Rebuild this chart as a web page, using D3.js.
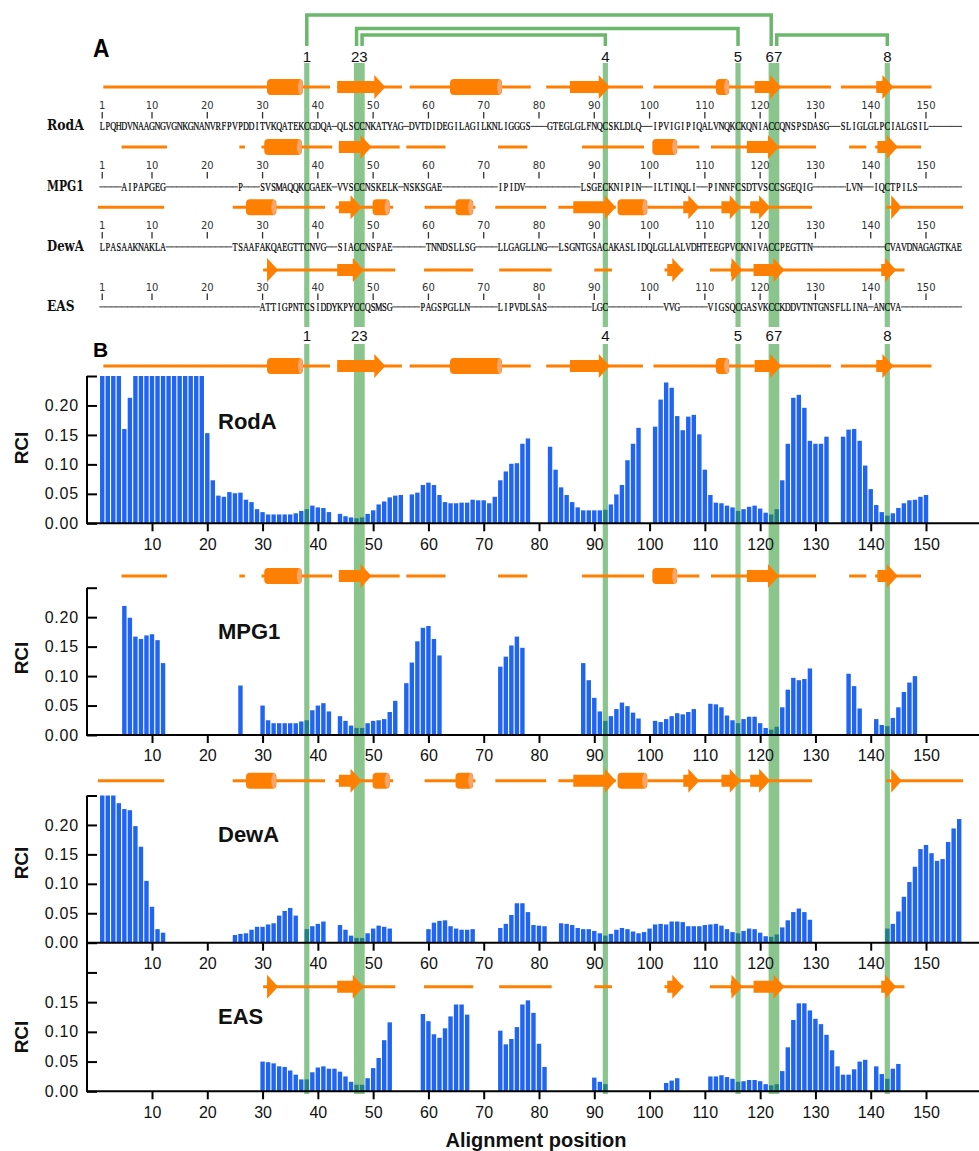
<!DOCTYPE html>
<html><head><meta charset="utf-8">
<script src="https://cdn.jsdelivr.net/npm/d3@7"></script>
<style>body{margin:0;background:#fff} svg{display:block}</style>
</head><body><svg id="c" width="979" height="1151"></svg>
<script>
// ---------------- DATA ----------------
const proteins = ["RodA", "MPG1", "DewA", "EAS"];

const seqRodA = "LPQHDVNAAGNGVGNKGNANVRFPVPDDITVKQATEKCGDQA-QLSCCNKATYAG-DVTDIDEGILAGILKNLIGGGS---GTEGLGLFNQCSKLDLQ--IPVIGIPIQALVNQKCKQNIACCQNSPSDASG--SLIGLGLPCIALGSIL------";
const seqMPG1 = "----AIPAPGEG-------------P---SVSMAQQKCGAEK-VVSCCNSKELK-NSKSGAE----------IPIDV----------LSGECKNIPIN--ILTINQLI--PINNFCSDTVSCCSGEQIG------LVN--IQCTPILS--------";
const seqDewA = "LPASAAKNAKLA------------TSAAFAKQAEGTTCNVG--SIACCNSPAE------TNNDSLLSG----LLGAGLLNG--LSGNTGSACAKASLIDQLGLLALVDHTEEGPVCKNIVACCPEGTTN-------------CVAVDNAGAGTKAE";
const seqEAS  = "-----------------------------ATTIGPNTCSIDDYKPYCCQSMSG-----PAGSPGLLN-----LIPVDLSAS--------LGC----------VVG-----VIGSQCGASVKCCKDDVTNTGNSFLLINA-ANCVA-----------";

// RCI per alignment position 1..156 (null = no value)
const rciRodA = [
 .25,.25,.25,.25,.160,.213,.25,.25,.25,.25,
 .25,.25,.25,.25,.25,.25,.25,.25,.25,.153,
 .073,.047,.045,.053,.051,.052,.040,.036,.024,.019,
 .015,.015,.015,.015,.015,.017,.021,.024,.030,.027,
 .026,.019,null,.016,.012,.010,.0085,.010,.016,.022,
 .032,.037,.044,.047,.048,null,.049,.052,.065,.069,
 .065,.048,.036,.034,.034,.035,.035,.040,.039,.039,
 .034,.045,.073,.088,.101,.102,.135,.144,null,null,
 null,.130,.091,.061,.048,.036,.027,.022,.022,.022,
 .022,.023,.032,.049,.065,.107,.135,.162,null,null,
 .164,.210,.239,.230,.182,.158,.181,.184,.151,.091,
 .048,.035,.034,.030,.027,.021,.024,.028,.030,.025,
 .018,.015,.024,.073,.135,.213,.218,.196,.140,.135,
 .135,.147,null,null,.147,.159,.160,.140,.098,.058,
 .031,.019,.013,.017,.026,.034,.039,.040,.045,.048,
 null,null,null,null,null,null];
const rciMPG1 = [
 null,null,null,null,.219,.199,.167,.163,.169,.171,
 .161,.122,null,null,null,null,null,null,null,null,
 null,null,null,null,null,.084,null,null,null,.050,
 .025,.020,.020,.020,.020,.020,.023,.025,.042,.050,
 .054,.040,null,.032,.024,.016,.012,.012,.020,.024,
 .025,.027,.039,.058,null,.088,.123,.159,.182,.185,
 .163,.135,null,null,null,null,null,null,null,null,
 null,null,.116,.133,.152,.167,.148,null,null,null,
 null,null,null,null,null,null,null,.122,.093,.063,
 .040,.024,.032,.044,.055,.049,.038,.028,null,null,
 .024,.022,.027,.032,.037,.035,.039,.044,null,null,
 .053,.052,.047,.033,.025,.020,.027,.031,.031,.020,
 .012,.009,.014,.047,.077,.097,.093,.095,.113,null,
 null,null,null,null,null,.104,.083,.045,null,null,
 .027,.017,.015,.029,.047,.073,.089,.100,null,null,
 null,null,null,null,null,null];
const rciDewA = [
 .25,.25,.25,.237,.227,.225,.198,.163,.105,.061,
 .023,.017,null,null,null,null,null,null,null,null,
 null,null,null,null,.013,.015,.016,.022,.027,.027,
 .031,.033,.046,.054,.059,.046,null,.023,.028,.032,
 .036,null,null,.030,.022,.012,.008,.008,.016,.024,
 .029,.027,.024,null,null,null,null,null,null,.023,
 .034,.037,.038,.028,.024,.022,.022,.023,null,null,
 null,null,.025,.032,.047,.067,.067,.052,.030,.029,
 .028,null,null,.033,.032,.030,.025,.023,.023,.020,
 .016,.012,.015,.022,.025,.023,.019,.016,.018,.024,
 .031,.032,.031,.036,.036,.035,.028,.028,.028,.030,
 .031,.032,.029,.023,.018,.016,.020,.024,.023,.017,
 .011,.010,.014,.026,.038,.052,.058,.052,.039,null,
 null,null,null,null,null,null,null,null,null,null,
 null,null,.024,.032,.053,.078,.103,.129,.159,.166,
 .152,.139,.142,.171,.194,.210];
const rciEAS = [
 null,null,null,null,null,null,null,null,null,null,
 null,null,null,null,null,null,null,null,null,null,
 null,null,null,null,null,null,null,null,null,.050,
 .049,.047,.042,.041,.035,.028,.020,.020,.032,.040,
 .042,.038,.038,.033,.025,.016,.011,.011,.022,.039,
 .056,.086,.116,null,null,null,null,null,.130,.118,
 .096,.090,.106,.126,.146,.146,.129,null,null,null,
 null,null,.102,.079,.088,.108,.146,.153,.132,.080,
 .041,null,null,null,null,null,null,null,null,.023,
 .016,.012,null,null,null,null,null,null,null,null,
 null,null,.014,.018,.022,null,null,null,null,null,
 .025,.025,.027,.024,.021,.016,.017,.019,.019,.017,
 .012,.010,.012,.034,.074,.120,.148,.148,.136,.122,
 .113,.095,.069,.042,.028,.028,.037,.050,.053,null,
 .042,.029,.021,.038,.046,null,null,null,null,null,
 null,null,null,null,null,null];

// secondary structure: [type, start, end] in alignment positions (c coil, h helix, e strand)
const ssRodA = [["c",1.2,30.8],["h",30.8,37.3],["c",37.3,42.2],["c",43.5,55.2],["e",43.5,52.2],
 ["c",56.6,63.9],["h",63.9,73.3],["c",73.3,78.5],["c",81.3,98.8],["e",85.6,92.8],
 ["c",100.7,119],["h",112,114.4],["c",119,132.8],["e",119,123.8],["c",134.6,151],["e",141,144.1]];
const ssMPG1 = [["c",4.5,12.7],["c",25.8,26.8],["c",29.8,42.6],["h",30.3,37.1],["c",43.8,54.8],["e",43.8,49.7],
 ["c",56,63.1],["c",72.6,77.9],["c",87.8,99],["h",100.5,105],["c",105,109],["c",111.1,130.1],["e",117.6,123.4],
 ["c",136.1,139.2],["c",140.8,149.1],["e",141.2,144.9]];
const ssDewA = [["c",0.2,12.2],["c",24.6,41.3],["h",27,32.5],["c",43.2,53.6],["e",43.8,47.9],["h",49.9,53],
 ["c",59.3,68.5],["h",64.9,68.1],["c",72.1,81.3],["c",83.5,93.9],["e",86.2,93.9],["h",94.2,99.6],
 ["c",99.6,129.4],["e",106.1,109],["e",113,116.5],["e",118.2,121.8],["c",142.8,156.7],["e",143.7,145.6]];
const ssEAS = [["c",30.1,54],["e",30.8,32.8],["e",43.5,48.3],["c",59.2,68.1],["c",72.8,82.3],["c",90,93.2],
 ["c",102.7,106.1],["e",103.2,106.1],["c",110.9,146.1],["e",114.7,116.8],["e",118.8,124.4],["e",141.9,144.6]];

// disulfide cysteines (numbering 1..8) and their alignment positions
const cysPos = [38, 47, 48, 92, 116, 122, 123, 143];
const cysGroups = [[1], [2, 3], [4], [5], [6, 7], [8]];
const cysPairs = [[1, 6, 0], [2, 5, 1], [3, 4, 2], [7, 8, 2]];  // [cysA, cysB, bracket level]
const rulerTicks = [1, 10, 20, 30, 40, 50, 60, 70, 80, 90, 100, 110, 120, 130, 140, 150];
const xTicks = [10, 20, 30, 40, 50, 60, 70, 80, 90, 100, 110, 120, 130, 140, 150];
const yTicks = [0, 0.05, 0.10, 0.15, 0.20, 0.25];

const seqs = [seqRodA, seqMPG1, seqDewA, seqEAS];
const rcis = [rciRodA, rciMPG1, rciDewA, rciEAS];
const sss = [ssRodA, ssMPG1, ssDewA, ssEAS];

// ---------------- LAYOUT ----------------
const ORANGE = "#ff7f00", BLUE = "#1f64f2";
const svg = d3.select("#c");
const x = d3.scaleLinear().domain([10, 150]).range([152, 926]);
const step = x(11) - x(10);

const A = [ {track: 87, ruler: 109, seq: 130}, {track: 147, ruler: 169, seq: 190.5},
            {track: 207.3, ruler: 229, seq: 250.5}, {track: 270, ruler: 290.5, seq: 310.5} ];
const B = [ {track: 366, base: 523.3, top: 376, lab: 429, rci: 448, maxLab: 0.2},
            {track: 576, base: 735, top: 587.7, lab: 639, rci: 658, maxLab: 0.2},
            {track: 780.7, base: 942.7, top: 795.5, lab: 842, rci: 863, maxLab: 0.2},
            {track: 986.7, base: 1091.3, top: 942.7, lab: 1024, rci: 1037, maxLab: 0.15} ];

const gBars = svg.append("g"), gBand = svg.append("g"), gSS = svg.append("g"), gAx = svg.append("g"), gTxt = svg.append("g");

function drawSS(g, ss, yc) {
  const gg = g.append("g");
  gg.selectAll("line").data(ss.filter(d => d[0] === "c")).join("line")
    .attr("x1", d => x(d[1])).attr("x2", d => x(d[2])).attr("y1", yc).attr("y2", yc)
    .attr("stroke", ORANGE).attr("stroke-width", 3);
  const hel = ss.filter(d => d[0] === "h");
  gg.selectAll("rect").data(hel).join("rect")
    .attr("x", d => x(d[1])).attr("width", d => x(d[2]) - x(d[1])).attr("y", yc - 8).attr("height", 16)
    .attr("rx", 4).attr("fill", ORANGE);
  gg.selectAll("ellipse").data(hel).join("ellipse")
    .attr("cx", d => x(d[2]) - 2.5).attr("cy", yc).attr("rx", 2.5).attr("ry", 7.6).attr("fill", "#f9a56c");
  gg.selectAll("path").data(ss.filter(d => d[0] === "e")).join("path")
    .attr("d", d => {
      const s = x(d[1]), e = x(d[2]), hs = Math.max(s, e - 11);
      let p = "";
      if (hs > s) p += `M${s},${yc-6}H${hs}V${yc+6}H${s}Z`;
      p += `M${hs},${yc-12}L${e},${yc}L${hs},${yc+12}Z`;
      return p;
    }).attr("fill", ORANGE);
}

// ---------- Panel A ----------
proteins.forEach((name, k) => {
  const L = A[k];
  drawSS(gSS, sss[k], L.track);
  const r = gTxt.append("g");
  r.selectAll("text").data(rulerTicks).join("text")
    .attr("x", d => x(d)).attr("y", L.ruler).attr("text-anchor", "middle")
    .attr("font-family", "DejaVu Sans").attr("font-size", 10).attr("fill", "#333").text(d => d);
  r.selectAll("line").data(rulerTicks).join("line")
    .attr("x1", d => x(d)).attr("x2", d => x(d)).attr("y1", L.ruler + 3).attr("y2", L.ruler + 9.5)
    .attr("stroke", "#333").attr("stroke-width", 1.3);
  gTxt.append("text").attr("x", 47).attr("y", L.seq).attr("font-family", "DejaVu Serif")
    .attr("font-weight", "bold").attr("font-size", 14).attr("textLength", name.length * 9.2)
    .attr("lengthAdjust", "spacingAndGlyphs").attr("fill", "#111").text(name);
  const chars = seqs[k].split("").map((c, i) => ({c, p: i + 1}));
  const sg = gTxt.append("g");
  sg.selectAll("text").data(chars.filter(d => d.c !== "-")).join("text")
    .attr("transform", d => `translate(${x(d.p)},${L.seq}) scale(0.72,1)`)
    .attr("text-anchor", "middle").attr("font-family", "Liberation Serif").attr("font-size", 11.5)
    .attr("stroke", "#000").attr("stroke-width", 0.25)
    .attr("fill", "#000").text(d => d.c);
  sg.selectAll("line").data(chars.filter(d => d.c === "-")).join("line")
    .attr("x1", d => x(d.p) - step / 2 - 0.2).attr("x2", d => x(d.p) + step / 2 + 0.2)
    .attr("y1", L.seq - 3.6).attr("y2", L.seq - 3.6).attr("stroke", "#222").attr("stroke-width", 0.9);
});

// ---------- Panel B ----------
proteins.forEach((name, k) => {
  const L = B[k];
  const y = d3.scaleLinear().domain([0, 0.25]).range([L.base, L.top]);
  drawSS(gSS, sss[k], L.track);
  const vals = rcis[k].map((v, i) => ({v, p: i + 1})).filter(d => d.v !== null);
  gBars.append("g").selectAll("rect").data(vals).join("rect")
    .attr("x", d => x(d.p) - 2.2).attr("width", 4.4)
    .attr("y", d => y(Math.min(d.v, 0.25))).attr("height", d => L.base - y(Math.min(d.v, 0.25)))
    .attr("fill", BLUE);
  // x axis
  const xa = gAx.append("g").attr("transform", `translate(0,${L.base})`)
    .call(d3.axisBottom(x).tickValues(xTicks).tickSize(8).tickPadding(7).tickSizeOuter(0));
  xa.select(".domain").remove();
  xa.append("line").attr("x1", 87).attr("x2", 979).attr("stroke", "#000").attr("stroke-width", 2);
  xa.selectAll(".tick line").attr("stroke-width", 2);
  xa.selectAll("text").attr("font-family", "Liberation Sans").attr("font-size", 16).attr("fill", "#111");
  // y axis
  const yt = yTicks.filter(t => (k === 3 ? t <= 0.2 : true));
  const ya = gAx.append("g").attr("transform", "translate(87,0)")
    .call(d3.axisLeft(y).tickValues(yt).tickSize(-10).tickPadding(8).tickSizeOuter(0)
      .tickFormat(t => t <= L.maxLab + 1e-9 ? d3.format(".2f")(t) : ""));
  ya.select(".domain").remove();
  ya.append("line").attr("y1", L.top).attr("y2", L.base + 1).attr("stroke", "#000").attr("stroke-width", 2);
  ya.selectAll(".tick line").attr("stroke-width", 2);
  ya.selectAll("text").attr("font-family", "Liberation Sans").attr("font-size", 16)
    .attr("letter-spacing", 0.8).attr("fill", "#111");
  // labels
  gTxt.append("text").attr("x", 218).attr("y", L.lab).attr("font-family", "Liberation Sans")
    .attr("font-weight", "bold").attr("font-size", 22).attr("fill", "#111").text(name);
  gTxt.append("text").attr("transform", `translate(28,${L.rci}) rotate(-90)`).attr("text-anchor", "middle")
    .attr("font-family", "Liberation Sans").attr("font-weight", "bold").attr("font-size", 19)
    .attr("fill", "#111").text("RCI");
});

gTxt.append("text").attr("x", 536).attr("y", 1147).attr("text-anchor", "middle")
  .attr("font-family", "Liberation Sans").attr("font-weight", "bold").attr("font-size", 20)
  .attr("fill", "#111").text("Alignment position");
gTxt.append("text").attr("x", 0).attr("y", 0).attr("font-family", "Liberation Sans")
  .attr("font-weight", "bold").attr("font-size", 24).attr("transform", "translate(93,57) scale(0.95,1.1)")
  .attr("fill", "#000").text("A");
gTxt.append("text").attr("x", 93).attr("y", 357).attr("font-family", "Liberation Sans")
  .attr("font-weight", "bold").attr("font-size", 21).attr("fill", "#000").text("B");

// ---------- cysteine bands, labels, brackets ----------
const bandSegs = [[63, 327], [344, 1094]];
cysGroups.forEach(gr => {
  const p0 = cysPos[gr[0] - 1], p1 = cysPos[gr[gr.length - 1] - 1];
  const x0 = x(p0) - 2.6, x1 = x(p1) + 2.6;
  bandSegs.forEach(s => {
    gBand.append("rect").attr("x", x0).attr("width", x1 - x0).attr("y", s[0]).attr("height", s[1] - s[0])
      .attr("fill", "rgb(40,150,45)").attr("opacity", 0.55);
  });
  [61.5, 341].forEach(yy => {
    gTxt.append("text").attr("x", (x0 + x1) / 2).attr("y", yy).attr("text-anchor", "middle")
      .attr("font-family", "Liberation Sans").attr("font-size", 15).attr("fill", "#111").text(gr.join(""));
  });
});
const levelY = [15, 28.5, 35];
const gBr = svg.append("g").attr("fill", "none").attr("stroke", "rgb(50,155,50)").attr("stroke-opacity", 0.72)
  .attr("stroke-width", 3.5);
cysPairs.forEach(pr => {
  const xa = x(cysPos[pr[0] - 1]), xb = x(cysPos[pr[1] - 1]), yy = levelY[pr[2]];
  gBr.append("path").attr("d", `M${xa},46V${yy}H${xb}V46`);
});
</script></body></html>
